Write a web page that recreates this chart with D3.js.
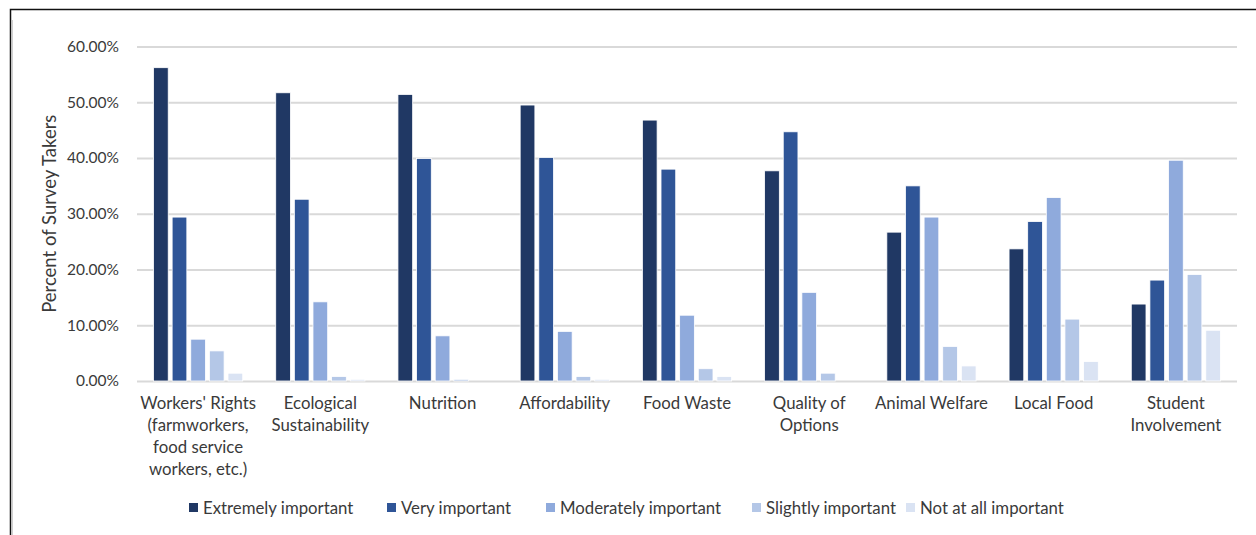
<!DOCTYPE html>
<html>
<head>
<meta charset="utf-8">
<script src="https://cdn.jsdelivr.net/npm/d3@7"></script>
<style>
  html, body { margin: 0; padding: 0; background: #fff; }
  svg { display: block; }
  text { font-family: Lato, "Open Sans", sans-serif; fill: #3a3a3a; }
</style>
</head>
<body>
<svg id="chart" width="1256" height="535"></svg>
<script>
// Survey: importance of each dining priority (percent of respondents)
const categories = [
  "Workers' Rights (farmworkers, food service workers, etc.)",
  "Ecological Sustainability",
  "Nutrition",
  "Affordability",
  "Food Waste",
  "Quality of Options",
  "Animal Welfare",
  "Local Food",
  "Student Involvement"
];
const seriesNames = [
  "Extremely important",
  "Very important",
  "Moderately important",
  "Slightly important",
  "Not at all important"
];
const extremelyImportant = [56.2, 51.7, 51.4, 49.5, 46.8, 37.7, 26.7, 23.7, 13.8];
const veryImportant      = [29.4, 32.6, 39.9, 40.1, 38.0, 44.7, 35.0, 28.6, 18.1];
const moderatelyImportant = [7.5, 14.2, 8.1, 8.9, 11.8, 15.9, 29.4, 32.9, 39.6];
const slightlyImportant  = [5.4, 0.8, 0.3, 0.8, 2.2, 1.4, 6.2, 11.1, 19.1];
const notAtAllImportant  = [1.4, 0.3, 0.0, 0.3, 0.8, 0.0, 2.7, 3.5, 9.1];
const yTicks = [0, 10, 20, 30, 40, 50, 60];
const colors = ["#203864", "#2F5597", "#8FAADC", "#B4C7E7", "#DAE3F3"];

const seriesValues = [extremelyImportant, veryImportant, moderatelyImportant, slightlyImportant, notAtAllImportant];

const svg = d3.select("#chart");
const plot = { left: 137, right: 1237, top: 46.5, bottom: 381 };

// Outer frame (top and left edges visible)
svg.append("path")
  .attr("d", "M10.5,535 V9.5 H1256")
  .attr("fill", "none").attr("stroke", "#111").attr("stroke-width", 1.5);
svg.append("line")
  .attr("x1", 12.5).attr("x2", 12.5).attr("y1", 20).attr("y2", 535)
  .attr("stroke", "#d0d0d0").attr("stroke-width", 1);

const x0 = d3.scaleBand().domain(categories).range([plot.left, plot.right]).padding(0);
const groupPad = 16.5;
const x1 = d3.scaleBand().domain(seriesNames)
  .range([groupPad, x0.bandwidth() - groupPad]).paddingInner(0.21).paddingOuter(0);
const y = d3.scaleLinear().domain([0, 60]).range([plot.bottom, plot.top]);

// Gridlines and value axis
const yAxis = d3.axisLeft(y).tickValues(yTicks)
  .tickFormat(d => d.toFixed(2) + "%")
  .tickSize(-(plot.right - plot.left)).tickPadding(18);
const gy = svg.append("g").attr("transform", `translate(${plot.left},0)`).call(yAxis);
gy.select(".domain").remove();
gy.selectAll(".tick line").attr("stroke", "#d9d9d9").attr("stroke-width", 2);
gy.selectAll(".tick text").attr("font-size", 15.5).attr("fill", "#3a3a3a")
  .attr("font-family", "Lato, 'Open Sans', sans-serif");

// Bars
const groups = svg.append("g").selectAll("g")
  .data(categories)
  .join("g")
  .attr("transform", d => `translate(${x0(d)},0)`);

groups.selectAll("rect")
  .data((c, ci) => seriesNames.map((s, si) => ({ s, si, v: seriesValues[si][ci] })))
  .join("rect")
  .attr("x", d => x1(d.s))
  .attr("width", x1.bandwidth())
  .attr("y", d => y(d.v))
  .attr("height", d => y(0) - y(d.v))
  .attr("fill", d => colors[d.si])
  .attr("stroke", d => d.v > 0 ? "#ffffff" : "none")
  .attr("stroke-width", 0.8);

// Category labels (wrapped)
const labelWidth = 120;
const xLabels = svg.append("g").selectAll("text")
  .data(categories)
  .join("text")
  .attr("x", d => x0(d) + x0.bandwidth() / 2)
  .attr("y", 409)
  .attr("text-anchor", "middle")
  .attr("font-size", 16.8);

xLabels.each(function (d) {
  const t = d3.select(this);
  const words = d.split(" ");
  let line = [];
  let tspan = t.append("tspan").attr("x", t.attr("x")).attr("dy", 0);
  words.forEach(w => {
    line.push(w);
    tspan.text(line.join(" "));
    if (tspan.node().getComputedTextLength() > labelWidth && line.length > 1) {
      line.pop();
      tspan.text(line.join(" "));
      line = [w];
      tspan = t.append("tspan").attr("x", t.attr("x")).attr("dy", 22).text(w);
    }
  });
});

// Y axis title
svg.append("text")
  .attr("transform", `translate(56,${(plot.top + plot.bottom) / 2}) rotate(-90)`)
  .attr("text-anchor", "middle")
  .attr("font-size", 18.5)
  .text("Percent of Survey Takers");

// Legend entries along the bottom
const legendX = [189, 387, 546, 752, 906];
const legend = svg.append("g").attr("transform", "translate(0,509)");
seriesNames.forEach((name, i) => {
  const item = legend.append("g").attr("transform", `translate(${legendX[i]},0)`);
  item.append("rect").attr("x", 0).attr("y", -6).attr("width", 9).attr("height", 9)
    .attr("fill", colors[i]);
  item.append("text").attr("x", 14).attr("y", 5)
    .attr("font-size", 16.8).text(name);
});
</script>
</body>
</html>
